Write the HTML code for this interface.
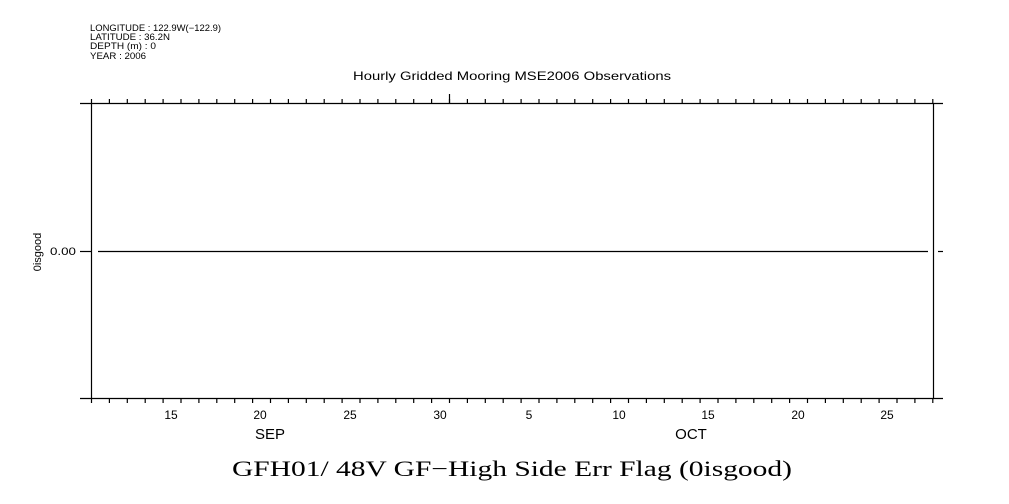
<!DOCTYPE html>
<html><head><meta charset="utf-8"><style>
html,body{margin:0;padding:0;background:#fff;width:1009px;height:504px;overflow:hidden}
svg{display:block}
text{font-family:"Liberation Sans",sans-serif;fill:#000}
</style></head><body>
<svg id="s" width="1009" height="504" viewBox="0 0 1009 504" xmlns="http://www.w3.org/2000/svg">
<g font-size="9">
<text x="90" y="31" textLength="131" lengthAdjust="spacingAndGlyphs">LONGITUDE : 122.9W(−122.9)</text>
<text x="90" y="40" textLength="80" lengthAdjust="spacingAndGlyphs">LATITUDE : 36.2N</text>
<text x="90" y="49" textLength="66" lengthAdjust="spacingAndGlyphs">DEPTH (m) : 0</text>
<text x="90" y="59" textLength="56" lengthAdjust="spacingAndGlyphs">YEAR : 2006</text>
</g>
<text x="353" y="80" font-size="12" textLength="318" lengthAdjust="spacingAndGlyphs">Hourly Gridded Mooring MSE2006 Observations</text>
<g stroke="#000" stroke-width="1.2" fill="none" id="ax">
<line x1="80" y1="103.5" x2="943" y2="103.5"/>
<line x1="80" y1="398.5" x2="943" y2="398.5"/>
<line x1="91.5" y1="103" x2="91.5" y2="399"/>
<line x1="933.5" y1="103" x2="933.5" y2="399"/>
<line x1="80" y1="251.5" x2="91" y2="251.5"/>
<line x1="938" y1="251.5" x2="943" y2="251.5"/>
<line x1="98" y1="251.5" x2="928" y2="251.5"/>
<line x1="449.5" y1="94" x2="449.5" y2="103"/>
</g>
<text x="50" y="255" font-size="11" textLength="26" lengthAdjust="spacingAndGlyphs">0.00</text>
<text transform="translate(41,252) rotate(-90)" font-size="11" text-anchor="middle">0isgood</text>
<g font-size="12" text-anchor="middle">
<text x="171" y="419">15</text><text x="260" y="419">20</text><text x="350" y="419">25</text>
<text x="440" y="419">30</text><text x="529" y="419">5</text><text x="619" y="419">10</text>
<text x="708" y="419">15</text><text x="798" y="419">20</text><text x="887" y="419">25</text>
</g>
<text x="270" y="439" font-size="15" text-anchor="middle">SEP</text>
<text x="691" y="439" font-size="15" text-anchor="middle">OCT</text>
<text x="232" y="476" font-size="22" textLength="560" lengthAdjust="spacingAndGlyphs" style="font-family:'Liberation Serif',serif">GFH01/ 48V GF−High Side Err Flag (0isgood)</text>
</svg>
<script>
var g=document.getElementById('ax'),ns='http://www.w3.org/2000/svg';
for(var k=0;k<48;k++){var x=91.5+k*17.9;if(x>934)break;
[[99,103],[398,403]].forEach(function(p){var l=document.createElementNS(ns,'line');
l.setAttribute('x1',x);l.setAttribute('x2',x);l.setAttribute('y1',p[0]);l.setAttribute('y2',p[1]);g.appendChild(l);});}
</script>
</body></html>
